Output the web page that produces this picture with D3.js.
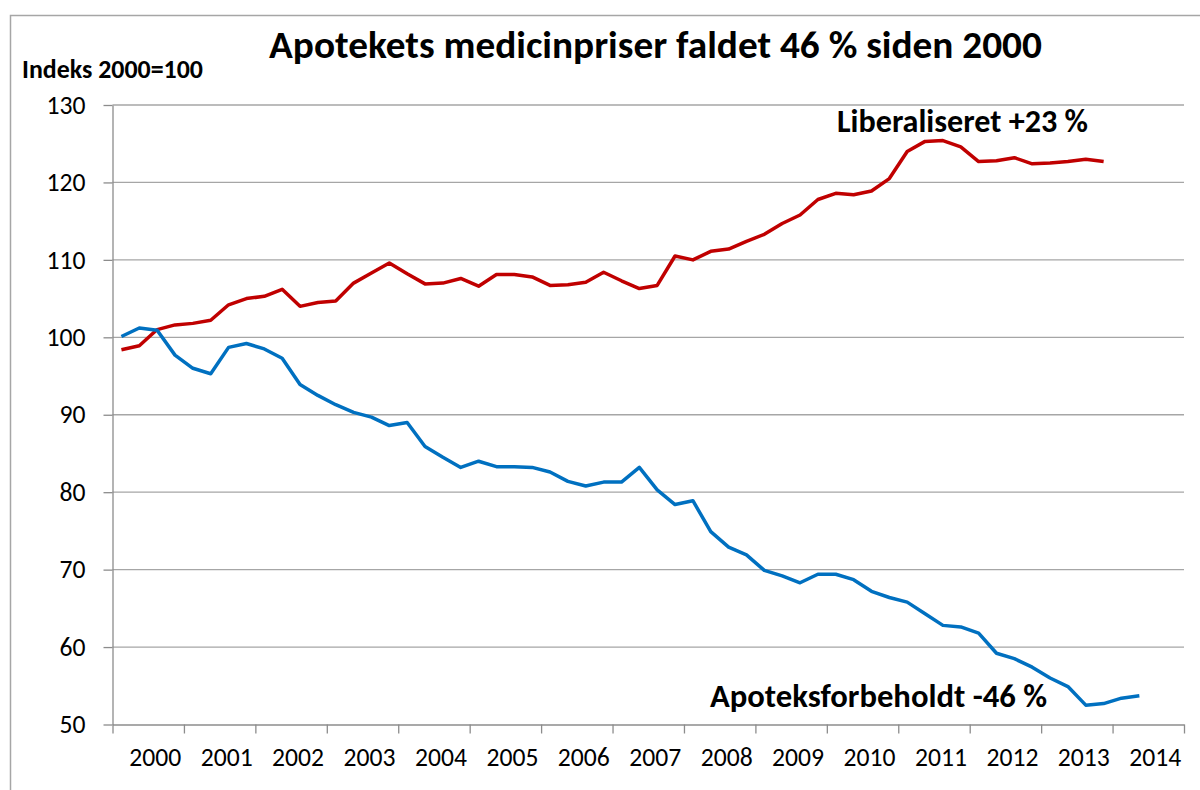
<!DOCTYPE html>
<html>
<head>
<meta charset="utf-8">
<script src="https://cdn.jsdelivr.net/npm/d3@7"></script>
<style>
  body { margin: 0; background: #fff; }
  text { font-family: Carlito, Calibri, Lato, "Open Sans", sans-serif; fill: #000; }
</style>
</head>
<body>
<svg id="chart" width="1200" height="790"></svg>
<script>
// years on the x axis, one band per year, four quarters each
var years = [2000, 2001, 2002, 2003, 2004, 2005, 2006, 2007, 2008, 2009, 2010, 2011, 2012, 2013, 2014];
var yTicks = [50, 60, 70, 80, 90, 100, 110, 120, 130];

// quarterly price index, 2000 = 100
var liberaliseret = [
  98.4, 98.9, 101.0, 101.6, 101.8, 102.2, 104.2, 105.0,
  105.3, 106.2, 104.0, 104.5, 104.7, 107.0, 108.3, 109.6,
  108.2, 106.9, 107.0, 107.6, 106.6, 108.1, 108.1, 107.8,
  106.7, 106.8, 107.1, 108.4, 107.3, 106.3, 106.7, 110.5,
  110.0, 111.1, 111.4, 112.4, 113.3, 114.7, 115.8, 117.8,
  118.6, 118.4, 118.9, 120.5, 124.0, 125.3, 125.4, 124.6,
  122.7, 122.8, 123.2, 122.4, 122.5, 122.7, 123.0, 122.7
];
var apoteksforbeholdt = [
  100.1, 101.2, 100.9, 97.7, 96.0, 95.3, 98.7, 99.2,
  98.5, 97.3, 93.9, 92.5, 91.3, 90.3, 89.7, 88.6,
  89.0, 85.9, 84.5, 83.2, 84.0, 83.3, 83.3, 83.2,
  82.6, 81.4, 80.8, 81.3, 81.3, 83.2, 80.3, 78.4,
  78.9, 74.9, 72.9, 71.9, 69.9, 69.2, 68.3, 69.4,
  69.4, 68.7, 67.2, 66.4, 65.8, 64.3, 62.8, 62.6,
  61.8, 59.2, 58.5, 57.4, 56.0, 54.9, 52.5, 52.7,
  53.4, 53.7
];

var svg = d3.select("#chart");

var x = d3.scaleLinear().domain([0, years.length * 4]).range([112.5, 1184]);
var y = d3.scaleLinear().domain([50, 130]).range([724.5, 105]);

// scale font so that a text gets a given width (Calibri is not installed)
function fitWidth(sel, w) {
  var size = parseFloat(sel.attr("font-size"));
  var cur = sel.node().getComputedTextLength();
  sel.attr("font-size", (size * w / cur).toFixed(2));
}

// chart border, cut off at right and bottom like the original
svg.append("rect")
  .attr("x", 10.5).attr("y", 15.5)
  .attr("width", 1300).attr("height", 900)
  .attr("fill", "none")
  .attr("stroke", "#a6a6a6")
  .attr("stroke-width", 1.5);

// horizontal gridlines
svg.append("g")
  .selectAll("line")
  .data(yTicks.slice(1))
  .enter().append("line")
  .attr("x1", x(0)).attr("x2", x(years.length * 4))
  .attr("y1", function(d) { return y(d); })
  .attr("y2", function(d) { return y(d); })
  .attr("stroke", "#a6a6a6")
  .attr("stroke-width", 1.3);

// tick label size
var probe = svg.append("text").attr("font-size", 24).text("2000");
fitWidth(probe, 52);
var tickSize = probe.attr("font-size");
probe.remove();

// y axis
var yAxis = svg.append("g")
  .attr("transform", "translate(" + x(0) + ",0)")
  .call(d3.axisLeft(y).tickValues(yTicks).tickSize(9).tickSizeOuter(0).tickPadding(18));
yAxis.select(".domain").attr("stroke", "#8c8c8c").attr("stroke-width", 1.3);
yAxis.selectAll(".tick line").attr("stroke", "#8c8c8c").attr("stroke-width", 1.3);
yAxis.selectAll(".tick text")
  .attr("font-size", tickSize)
  .attr("font-family", null)
  .attr("fill", "#000");
yAxis.attr("font-family", null);

// x axis: ticks at year boundaries
var xAxis = svg.append("g")
  .attr("transform", "translate(0," + y(50) + ")")
  .call(d3.axisBottom(x).tickValues(d3.range(0, years.length * 4 + 1, 4)).tickSize(9).tickSizeOuter(0).tickFormat(""));
xAxis.select(".domain").attr("stroke", "#8c8c8c").attr("stroke-width", 1.3);
xAxis.selectAll(".tick line").attr("stroke", "#8c8c8c").attr("stroke-width", 1.3);

svg.append("g")
  .selectAll("text")
  .data(years)
  .enter().append("text")
  .attr("x", function(d, i) { return x(i * 4 + 2) + 7; })
  .attr("y", 766)
  .attr("text-anchor", "middle")
  .attr("font-size", tickSize)
  .text(function(d) { return d; });

// the two series
var line = d3.line()
  .x(function(d, i) { return x(i + 0.5); })
  .y(function(d) { return y(d); });

svg.append("path")
  .datum(liberaliseret)
  .attr("d", line)
  .attr("fill", "none")
  .attr("stroke", "#c00000")
  .attr("stroke-width", 3.5)
  .attr("stroke-linejoin", "round");

svg.append("path")
  .datum(apoteksforbeholdt)
  .attr("d", line)
  .attr("fill", "none")
  .attr("stroke", "#0070c0")
  .attr("stroke-width", 3.5)
  .attr("stroke-linejoin", "round");

// texts
var title = svg.append("text")
  .attr("x", 655.5).attr("y", 58)
  .attr("text-anchor", "middle")
  .attr("font-size", 32).attr("font-weight", "bold")
  .text("Apotekets medicinpriser faldet 46 % siden 2000");
fitWidth(title, 773);

var yTitle = svg.append("text")
  .attr("x", 22).attr("y", 78)
  .attr("font-size", 22).attr("font-weight", "bold")
  .text("Indeks 2000=100");
fitWidth(yTitle, 181);

var lab1 = svg.append("text")
  .attr("x", 837).attr("y", 132)
  .attr("font-size", 26).attr("font-weight", "bold")
  .text("Liberaliseret +23 %");
fitWidth(lab1, 251);

var lab2 = svg.append("text")
  .attr("x", 710).attr("y", 707)
  .attr("font-size", 26).attr("font-weight", "bold")
  .text("Apoteksforbeholdt -46 %");
fitWidth(lab2, 337);
</script>
</body>
</html>
